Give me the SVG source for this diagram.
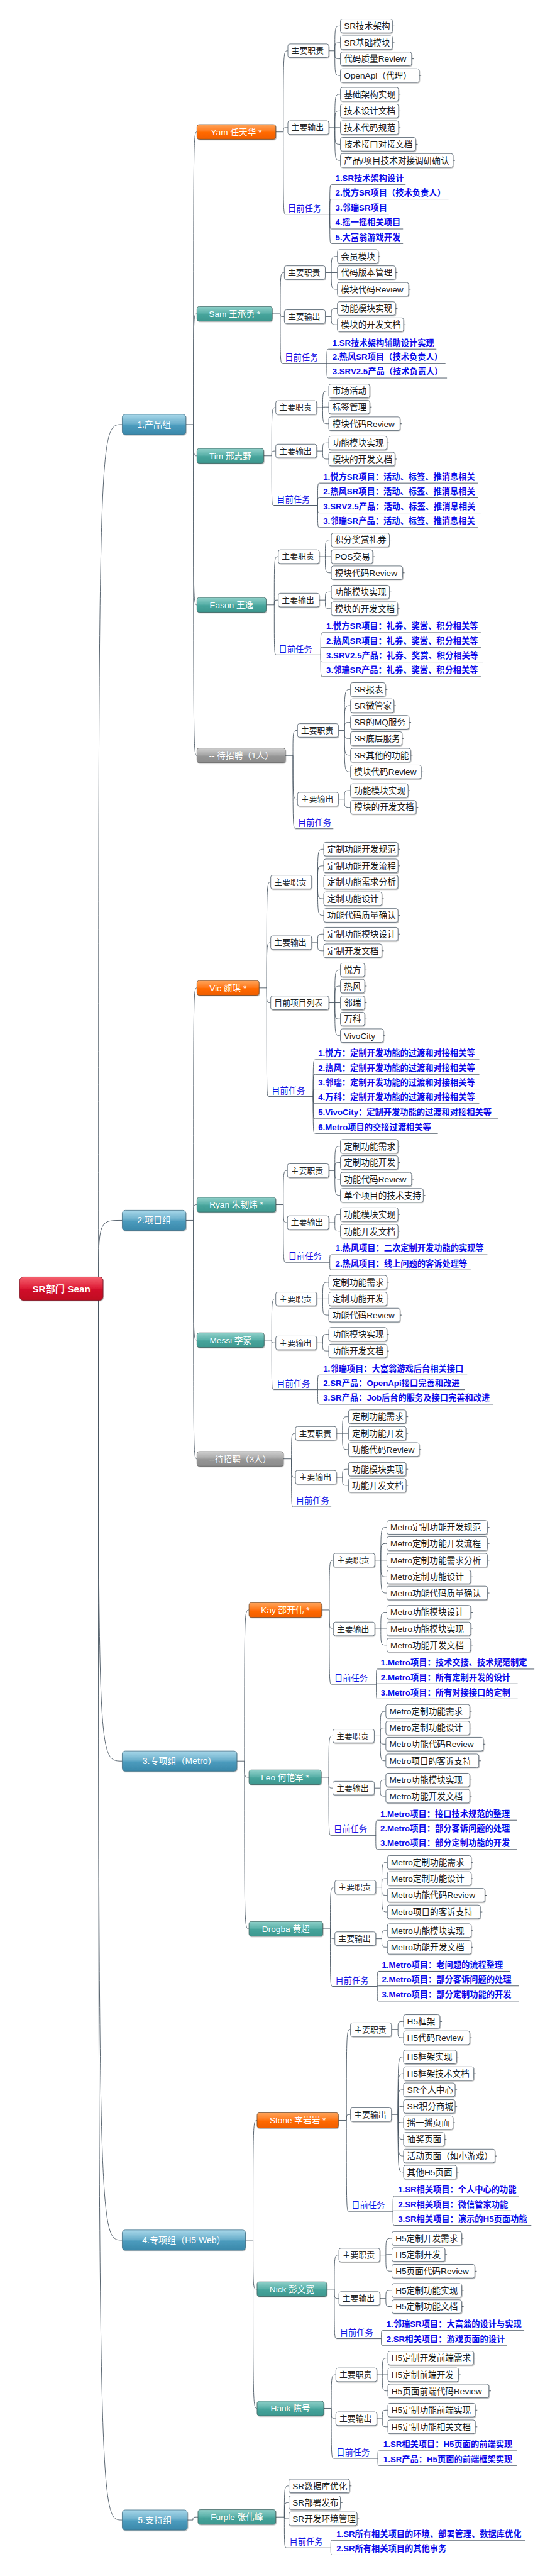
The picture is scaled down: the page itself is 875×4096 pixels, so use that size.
<svg xmlns="http://www.w3.org/2000/svg" width="875" height="4096" viewBox="0 0 875 4096">
<defs>
<linearGradient id="gO" x1="0" y1="0" x2="0" y2="1"><stop offset="0" stop-color="#ffa45a"/><stop offset="0.45" stop-color="#ff7a1c"/><stop offset="0.55" stop-color="#ff6800"/><stop offset="1" stop-color="#f05f00"/></linearGradient>
<linearGradient id="gT" x1="0" y1="0" x2="0" y2="1"><stop offset="0" stop-color="#8fd0c9"/><stop offset="0.45" stop-color="#5cb2aa"/><stop offset="0.55" stop-color="#46a49b"/><stop offset="1" stop-color="#3d988f"/></linearGradient>
<linearGradient id="gG" x1="0" y1="0" x2="0" y2="1"><stop offset="0" stop-color="#cfcfcf"/><stop offset="0.45" stop-color="#a8a8a8"/><stop offset="0.55" stop-color="#959595"/><stop offset="1" stop-color="#8c8c8c"/></linearGradient>
<linearGradient id="gB" x1="0" y1="0" x2="0" y2="1"><stop offset="0" stop-color="#a9d8ea"/><stop offset="0.45" stop-color="#6cb0cc"/><stop offset="0.55" stop-color="#4b9bbd"/><stop offset="1" stop-color="#3a88aa"/></linearGradient>
<linearGradient id="gR" x1="0" y1="0" x2="0" y2="1"><stop offset="0" stop-color="#f4606e"/><stop offset="0.45" stop-color="#e0223a"/><stop offset="0.55" stop-color="#d0102a"/><stop offset="1" stop-color="#c00a22"/></linearGradient>
<filter id="sh" x="-5%" y="-10%" width="115%" height="140%"><feDropShadow dx="1" dy="1.5" stdDeviation="0.8" flood-color="#000" flood-opacity="0.3"/></filter>
</defs>
<style>
.c{fill:none;stroke:#44525e;stroke-width:1.1}
.u{fill:none;stroke:#3c4a58;stroke-width:1.1}
.b{fill:#fff;stroke:#66737e;stroke-width:1.2;filter:url(#sh)}
.nO{fill:url(#gO);stroke:#6a4a30;stroke-width:1;filter:url(#sh)}
.nT{fill:url(#gT);stroke:#3d625f;stroke-width:1;filter:url(#sh)}
.nG{fill:url(#gG);stroke:#5e5e5e;stroke-width:1;filter:url(#sh)}
.nB{fill:url(#gB);stroke:#3f6f86;stroke-width:1;filter:url(#sh)}
.nR{fill:url(#gR);stroke:#7a1020;stroke-width:1;filter:url(#sh)}
text{font-family:"Liberation Sans","Noto Sans CJK SC",sans-serif}
.i{font-size:17px;fill:#1b1b1b}
.h{font-size:16px;fill:#222}
.t{font-size:16.5px;font-weight:bold;fill:#0b0bea}
.m{font-size:16.5px;fill:#1414e6}
.w{font-size:17px;fill:#fff;text-anchor:middle}
.l1{font-size:17.5px;fill:#fff;text-anchor:middle}
.rt{font-size:19px;font-weight:bold;fill:#fff;text-anchor:middle}
</style>
<rect width="875" height="4096" fill="#fff"/>
<g transform="scale(0.8035)">
<g id="connectors">
<path class="c" d="M195 2550C195 840 195 840 242 840M195 2550C195 2415 195 2415 242 2415M195 2550C195 3485 195 3485 242 3485M195 2550C195 4433 195 4433 242 4433M195 2550C195 4987 195 4987 242 4987"/>
<path class="c" d="M368 840H383M383 840C383 261 383 261 390 261M383 840C383 621 383 621 390 621M383 840C383 902 383 902 390 902M383 840C383 1197 383 1197 390 1197M383 840C383 1495 383 1495 390 1495"/>
<path class="c" d="M368 2415H383M383 2415C383 1955 383 1955 390 1955M383 2415C383 2384 383 2384 390 2384M383 2415C383 2652 383 2652 390 2652M383 2415C383 2887 383 2887 390 2887"/>
<path class="c" d="M469 3485H484M484 3485C484 3186 484 3186 493 3186M484 3485C484 3517 484 3517 493 3517M484 3485C484 3817 484 3817 493 3817"/>
<path class="c" d="M486 4433H501M501 4433C501 4196 501 4196 509 4196M501 4433C501 4530 501 4530 509 4530M501 4433C501 4766 501 4766 509 4766"/>
<path class="c" d="M371 4987H382C382 4981 382 4981 392 4981"/>
<path class="c" d="M546 261H561M561 261C561 100.5 561 100.5 570 100.5M561 261C561 252.5 561 252.5 570 252.5M561 261C561 424 561 424 566 424"/>
<path class="c" d="M539 621H555M555 621C555 539.5 555 539.5 563 539.5M555 621C555 626.5 555 626.5 563 626.5M555 621C555 719 555 719 560 719"/>
<path class="c" d="M522 902H538M538 902C538 806.5 538 806.5 546 806.5M538 902C538 892.5 538 892.5 546 892.5M538 902C538 1000 538 1000 542 1000"/>
<path class="c" d="M527 1197H543M543 1197C543 1101.5 543 1101.5 551 1101.5M543 1197C543 1187.5 543 1187.5 551 1187.5M543 1197C543 1296 543 1296 548 1296"/>
<path class="c" d="M565 1495H580M580 1495C580 1445.5 580 1445.5 589 1445.5M580 1495C580 1581.5 580 1581.5 589 1581.5M580 1495C580 1640 580 1640 586 1640"/>
<path class="c" d="M513 1955H528M528 1955C528 1745.5 528 1745.5 536 1745.5M528 1955C528 1865.5 528 1865.5 536 1865.5M528 1955C528 1984.5 528 1984.5 536 1984.5M528 1955C528 2170 528 2170 532 2170"/>
<path class="c" d="M546 2384H561M561 2384C561 2316.5 561 2316.5 569 2316.5M561 2384C561 2419.5 561 2419.5 569 2419.5M561 2384C561 2498 561 2498 566 2498"/>
<path class="c" d="M523 2652H538M538 2652C538 2570.5 538 2570.5 546 2570.5M538 2652C538 2657.5 538 2657.5 546 2657.5M538 2652C538 2750 538 2750 542 2750"/>
<path class="c" d="M561 2887H577M577 2887C577 2836.5 577 2836.5 585 2836.5M577 2887C577 2923.5 577 2923.5 585 2923.5M577 2887C577 2982 577 2982 581 2982"/>
<path class="c" d="M637 3186H652M652 3186C652 3087.5 652 3087.5 660 3087.5M652 3186C652 3223.5 652 3223.5 660 3223.5M652 3186C652 3333 652 3333 657 3333"/>
<path class="c" d="M636 3517H651M651 3517C651 3435.5 651 3435.5 659 3435.5M651 3517C651 3538.5 651 3538.5 659 3538.5M651 3517C651 3632 651 3632 656 3632"/>
<path class="c" d="M639 3817H654M654 3817C654 3734.5 654 3734.5 663 3734.5M654 3817C654 3836.5 654 3836.5 663 3836.5M654 3817C654 3931 654 3931 659 3931"/>
<path class="c" d="M670 4196H686M686 4196C686 4016.5 686 4016.5 694 4016.5M686 4196C686 4184.5 686 4184.5 694 4184.5M686 4196C686 4376 686 4376 691 4376"/>
<path class="c" d="M647 4530H662M662 4530C662 4462.5 662 4462.5 671 4462.5M662 4530C662 4548.5 662 4548.5 671 4548.5M662 4530C662 4628 662 4628 667 4628"/>
<path class="c" d="M641 4766H656M656 4766C656 4699.5 656 4699.5 665 4699.5M656 4766C656 4786.5 656 4786.5 665 4786.5M656 4766C656 4865 656 4865 662 4865"/>
<path class="c" d="M546 4981H563M563 4981C563 4919.5 563 4919.5 572 4919.5M563 4981C563 4952.5 563 4952.5 572 4952.5M563 4981C563 4984.5 563 4984.5 572 4984.5M563 4981C563 5042 563 5042 569 5042"/>
<path class="c" d="M651 100.5H663M663 100.5C663 51.5 663 51.5 674 51.5M663 100.5C663 84.5 663 84.5 674 84.5M663 100.5C663 116.5 663 116.5 674 116.5M663 100.5C663 149.5 663 149.5 674 149.5"/>
<path class="c" d="M651 252.5H663M663 252.5C663 186.5 663 186.5 674 186.5M663 252.5C663 219.5 663 219.5 674 219.5M663 252.5H674M663 252.5C663 285.5 663 285.5 674 285.5M663 252.5C663 317.5 663 317.5 674 317.5"/>
<path class="c" d="M653 424C653 365 653 365 657 365M653 424C653 394 653 394 657 394M653 424H657M653 424C653 453 653 453 657 453M653 424C653 482 653 482 657 482"/>
<path class="c" d="M644 539.5H656M656 539.5C656 507.5 656 507.5 668 507.5M656 539.5H668M656 539.5C656 572.5 656 572.5 668 572.5"/>
<path class="c" d="M644 626.5H656M656 626.5C656 610.5 656 610.5 668 610.5M656 626.5C656 642.5 656 642.5 668 642.5"/>
<path class="c" d="M647 719C647 691 647 691 652 691M647 719H652M647 719C647 748 647 748 652 748"/>
<path class="c" d="M627 806.5H639M639 806.5C639 773.5 639 773.5 651 773.5M639 806.5C639 805.5 639 805.5 651 805.5M639 806.5C639 838.5 639 838.5 651 838.5"/>
<path class="c" d="M627 892.5H639M639 892.5C639 876.5 639 876.5 651 876.5M639 892.5C639 908.5 639 908.5 651 908.5"/>
<path class="c" d="M629 1000C629 956 629 956 633 956M629 1000C629 985 629 985 633 985M629 1000C629 1015 629 1015 633 1015M629 1000C629 1044 629 1044 633 1044"/>
<path class="c" d="M632 1101.5H644M644 1101.5C644 1068.5 644 1068.5 656 1068.5M644 1101.5H656M644 1101.5C644 1133.5 644 1133.5 656 1133.5"/>
<path class="c" d="M632 1187.5H644M644 1187.5C644 1171.5 644 1171.5 656 1171.5M644 1187.5C644 1204.5 644 1204.5 656 1204.5"/>
<path class="c" d="M635 1296C635 1252 635 1252 639 1252M635 1296C635 1281 635 1281 639 1281M635 1296C635 1310 635 1310 639 1310M635 1296C635 1339 635 1339 639 1339"/>
<path class="c" d="M670 1445.5H682M682 1445.5C682 1364.5 682 1364.5 694 1364.5M682 1445.5C682 1396.5 682 1396.5 694 1396.5M682 1445.5C682 1429.5 682 1429.5 694 1429.5M682 1445.5C682 1461.5 682 1461.5 694 1461.5M682 1445.5C682 1494.5 682 1494.5 694 1494.5M682 1445.5C682 1527.5 682 1527.5 694 1527.5"/>
<path class="c" d="M670 1581.5H682M682 1581.5C682 1564.5 682 1564.5 694 1564.5M682 1581.5C682 1597.5 682 1597.5 694 1597.5"/>
<path class="c" d="M617 1745.5H629M629 1745.5C629 1680.5 629 1680.5 641 1680.5M629 1745.5C629 1713.5 629 1713.5 641 1713.5M629 1745.5H641M629 1745.5C629 1778.5 629 1778.5 641 1778.5M629 1745.5C629 1811.5 629 1811.5 641 1811.5"/>
<path class="c" d="M617 1865.5H629M629 1865.5C629 1848.5 629 1848.5 641 1848.5M629 1865.5C629 1881.5 629 1881.5 641 1881.5"/>
<path class="c" d="M651 1984.5H663M663 1984.5C663 1919.5 663 1919.5 674 1919.5M663 1984.5C663 1951.5 663 1951.5 674 1951.5M663 1984.5H674M663 1984.5C663 2016.5 663 2016.5 674 2016.5M663 1984.5C663 2049.5 663 2049.5 674 2049.5"/>
<path class="c" d="M620 2170C620 2097 620 2097 625 2097M620 2170C620 2126 620 2126 625 2126M620 2170C620 2155 620 2155 625 2155M620 2170C620 2184 620 2184 625 2184M620 2170C620 2214 620 2214 625 2214M620 2170C620 2243 620 2243 625 2243"/>
<path class="c" d="M651 2316.5H663M663 2316.5C663 2268.5 663 2268.5 674 2268.5M663 2316.5C663 2300.5 663 2300.5 674 2300.5M663 2316.5C663 2333.5 663 2333.5 674 2333.5M663 2316.5C663 2365.5 663 2365.5 674 2365.5"/>
<path class="c" d="M651 2419.5H663M663 2419.5C663 2403.5 663 2403.5 674 2403.5M663 2419.5C663 2436.5 663 2436.5 674 2436.5"/>
<path class="c" d="M653 2498C653 2483 653 2483 657 2483M653 2498C653 2513 653 2513 657 2513"/>
<path class="c" d="M627 2570.5H639M639 2570.5C639 2537.5 639 2537.5 651 2537.5M639 2570.5H651M639 2570.5C639 2602.5 639 2602.5 651 2602.5"/>
<path class="c" d="M627 2657.5H639M639 2657.5C639 2640.5 639 2640.5 651 2640.5M639 2657.5C639 2673.5 639 2673.5 651 2673.5"/>
<path class="c" d="M629 2750C629 2721 629 2721 633 2721M629 2750H633M629 2750C629 2779 629 2779 633 2779"/>
<path class="c" d="M666 2836.5H678M678 2836.5C678 2803.5 678 2803.5 690 2803.5M678 2836.5H690M678 2836.5C678 2868.5 678 2868.5 690 2868.5"/>
<path class="c" d="M666 2923.5H678M678 2923.5C678 2907.5 678 2907.5 690 2907.5M678 2923.5C678 2939.5 678 2939.5 690 2939.5"/>
<path class="c" d="M742 3087.5H754M754 3087.5C754 3022.5 754 3022.5 766 3022.5M754 3087.5C754 3054.5 754 3054.5 766 3054.5M754 3087.5H766M754 3087.5C754 3120.5 754 3120.5 766 3120.5M754 3087.5C754 3152.5 754 3152.5 766 3152.5"/>
<path class="c" d="M742 3223.5H754M754 3223.5C754 3190.5 754 3190.5 766 3190.5M754 3223.5H766M754 3223.5C754 3255.5 754 3255.5 766 3255.5"/>
<path class="c" d="M745 3333C745 3303 745 3303 748 3303M745 3333C745 3332 745 3332 748 3332M745 3333C745 3362 745 3362 748 3362"/>
<path class="c" d="M741 3435.5H753M753 3435.5C753 3386.5 753 3386.5 764 3386.5M753 3435.5C753 3419.5 753 3419.5 764 3419.5M753 3435.5C753 3451.5 753 3451.5 764 3451.5M753 3435.5C753 3484.5 753 3484.5 764 3484.5"/>
<path class="c" d="M741 3538.5H753M753 3538.5C753 3522.5 753 3522.5 764 3522.5M753 3538.5C753 3554.5 753 3554.5 764 3554.5"/>
<path class="c" d="M744 3632C744 3602 744 3602 748 3602M744 3632C744 3631 744 3631 748 3631M744 3632C744 3660 744 3660 748 3660"/>
<path class="c" d="M744 3734.5H756M756 3734.5C756 3685.5 756 3685.5 767 3685.5M756 3734.5C756 3717.5 756 3717.5 767 3717.5M756 3734.5C756 3750.5 756 3750.5 767 3750.5M756 3734.5C756 3783.5 756 3783.5 767 3783.5"/>
<path class="c" d="M744 3836.5H756M756 3836.5C756 3820.5 756 3820.5 767 3820.5M756 3836.5C756 3853.5 756 3853.5 767 3853.5"/>
<path class="c" d="M747 3931C747 3901 747 3901 750 3901M747 3931C747 3930 747 3930 750 3930M747 3931C747 3960 747 3960 750 3960"/>
<path class="c" d="M775 4016.5H788M788 4016.5C788 4000.5 788 4000.5 799 4000.5M788 4016.5C788 4032.5 788 4032.5 799 4032.5"/>
<path class="c" d="M775 4184.5H788M788 4184.5C788 4070.5 788 4070.5 799 4070.5M788 4184.5C788 4103.5 788 4103.5 799 4103.5M788 4184.5C788 4135.5 788 4135.5 799 4135.5M788 4184.5C788 4168.5 788 4168.5 799 4168.5M788 4184.5C788 4200.5 788 4200.5 799 4200.5M788 4184.5C788 4233.5 788 4233.5 799 4233.5M788 4184.5C788 4266.5 788 4266.5 799 4266.5M788 4184.5C788 4298.5 788 4298.5 799 4298.5"/>
<path class="c" d="M778 4376C778 4346 778 4346 782 4346M778 4376C778 4375 778 4375 782 4375M778 4376C778 4404 778 4404 782 4404"/>
<path class="c" d="M752 4462.5H764M764 4462.5C764 4429.5 764 4429.5 776 4429.5M764 4462.5C764 4461.5 764 4461.5 776 4461.5M764 4462.5C764 4494.5 764 4494.5 776 4494.5"/>
<path class="c" d="M752 4548.5H764M764 4548.5C764 4532.5 764 4532.5 776 4532.5M764 4548.5C764 4564.5 764 4564.5 776 4564.5"/>
<path class="c" d="M755 4628C755 4612 755 4612 759 4612M755 4628C755 4642 755 4642 759 4642"/>
<path class="c" d="M746 4699.5H757M757 4699.5C757 4666.5 757 4666.5 768 4666.5M757 4699.5H768M757 4699.5C757 4731.5 757 4731.5 768 4731.5"/>
<path class="c" d="M746 4786.5H757M757 4786.5C757 4769.5 757 4769.5 768 4769.5M757 4786.5C757 4802.5 757 4802.5 768 4802.5"/>
<path class="c" d="M748 4865C748 4850 748 4850 752 4850M748 4865C748 4879 748 4879 752 4879"/>
<path class="c" d="M655 5042C655 5027 655 5027 659 5027M655 5042C655 5056 655 5056 659 5056"/>
<path class="c" d="M777 51.5h4M777 84.5h4M815 116.5h4M830 149.5h4M789 186.5h4M789 219.5h4M789 252.5h4M823 285.5h4M897 317.5h4M749 507.5h4M783 539.5h4M809 572.5h4M783 610.5h4M799 642.5h4M732 773.5h4M732 805.5h4M792 838.5h4M766 876.5h4M782 908.5h4M771 1068.5h4M738 1101.5h4M797 1133.5h4M771 1171.5h4M787 1204.5h4M763 1364.5h4M780 1396.5h4M810 1429.5h4M796 1461.5h4M813 1494.5h4M834 1527.5h4M808 1564.5h4M824 1597.5h4M788 1680.5h4M788 1713.5h4M788 1745.5h4M756 1778.5h4M788 1811.5h4M788 1848.5h4M756 1881.5h4M722 1919.5h4M722 1951.5h4M722 1984.5h4M722 2016.5h4M759 2049.5h4M788 2268.5h4M788 2300.5h4M815 2333.5h4M838 2365.5h4M788 2403.5h4M788 2436.5h4M766 2537.5h4M766 2570.5h4M792 2602.5h4M766 2640.5h4M766 2673.5h4M804 2803.5h4M804 2836.5h4M830 2868.5h4M804 2907.5h4M804 2939.5h4M965 3022.5h4M965 3054.5h4M965 3087.5h4M932 3120.5h4M965 3152.5h4M932 3190.5h4M932 3223.5h4M932 3255.5h4M930 3386.5h4M930 3419.5h4M957 3451.5h4M948 3484.5h4M930 3522.5h4M930 3554.5h4M933 3685.5h4M933 3717.5h4M960 3750.5h4M951 3783.5h4M933 3820.5h4M933 3853.5h4M871 4000.5h4M930 4032.5h4M904 4070.5h4M938 4103.5h4M901 4135.5h4M901 4168.5h4M897 4200.5h4M880 4233.5h4M980 4266.5h4M904 4298.5h4M914 4429.5h4M881 4461.5h4M940 4494.5h4M914 4532.5h4M914 4564.5h4M938 4666.5h4M908 4699.5h4M968 4731.5h4M941 4769.5h4M941 4802.5h4M692 4919.5h4M674 4952.5h4M707 4984.5h4"/>
</g>

<g id="root"><rect class="nR" x="39" y="2527" width="165" height="46" rx="7"/><text class="rt" x="121.5" y="2557">SR部门 Sean</text></g>
<g id="grp1"><rect class="nB" x="242" y="820" width="126" height="40" rx="6"/><text class="l1" x="305" y="846">1.产品组</text></g>
<g id="grp2"><rect class="nB" x="242" y="2395" width="126" height="40" rx="6"/><text class="l1" x="305" y="2421">2.项目组</text></g>
<g id="grp3"><rect class="nB" x="242" y="3465" width="227" height="40" rx="6"/><text class="l1" x="355.5" y="3491">3.专项组（Metro）</text></g>
<g id="grp4"><rect class="nB" x="242" y="4413" width="244" height="40" rx="6"/><text class="l1" x="364" y="4439">4.专项组（H5 Web）</text></g>
<g id="grp5"><rect class="nB" x="242" y="4967" width="129" height="40" rx="6"/><text class="l1" x="306.5" y="4993">5.支持组</text></g>

<!-- Yam -->
<g id="yam"><rect class="nO" x="390" y="246.5" width="156" height="29" rx="5"/><text class="w" x="468" y="267">Yam 任天华 *</text></g>
<g id="yam-zz"><rect class="b" x="570" y="87" width="81" height="27" rx="4"/><text class="h" x="577" y="106">主要职责</text></g>
<g id="yam-zz1"><rect class="b" x="674" y="38" width="103" height="27" rx="4"/><text class="i" x="681" y="57.5">SR技术架构</text></g>
<g id="yam-zz2"><rect class="b" x="674" y="71" width="103" height="27" rx="4"/><text class="i" x="681" y="90.5">SR基础模块</text></g>
<g id="yam-zz3"><rect class="b" x="674" y="103" width="141" height="27" rx="4"/><text class="i" x="681" y="122.5">代码质量Review</text></g>
<g id="yam-zz4"><rect class="b" x="674" y="136" width="156" height="27" rx="4"/><text class="i" x="681" y="155.5">OpenApi（代理）</text></g>
<g id="yam-sc"><rect class="b" x="570" y="239" width="81" height="27" rx="4"/><text class="h" x="577" y="258">主要输出</text></g>
<g id="yam-sc1"><rect class="b" x="674" y="173" width="115" height="27" rx="4"/><text class="i" x="681" y="192.5">基础架构实现</text></g>
<g id="yam-sc2"><rect class="b" x="674" y="206" width="115" height="27" rx="4"/><text class="i" x="681" y="225.5">技术设计文档</text></g>
<g id="yam-sc3"><rect class="b" x="674" y="239" width="115" height="27" rx="4"/><text class="i" x="681" y="258.5">技术代码规范</text></g>
<g id="yam-sc4"><rect class="b" x="674" y="272" width="149" height="27" rx="4"/><text class="i" x="681" y="291.5">技术接口对接文档</text></g>
<g id="yam-sc5"><rect class="b" x="674" y="304" width="223" height="27" rx="4"/><text class="i" x="681" y="323.5">产品/项目技术对接调研确认</text></g>
<g id="yam-mq"><text class="m" x="570" y="418">目前任务</text><path class="u" d="M566 424H653"/></g>
<g id="yam-t1"><text class="t" x="664" y="358">1.SR技术架构设计</text><path class="u" d="M657 365H803"/></g>
<g id="yam-t2"><text class="t" x="664" y="387">2.悦方SR项目（技术负责人）</text><path class="u" d="M657 394H888"/></g>
<g id="yam-t3"><text class="t" x="664" y="417">3.邻瑞SR项目</text><path class="u" d="M657 424H770"/></g>
<g id="yam-t4"><text class="t" x="664" y="446">4.摇一摇相关项目</text><path class="u" d="M657 453H798"/></g>
<g id="yam-t5"><text class="t" x="664" y="475">5.大富翁游戏开发</text><path class="u" d="M657 482H798"/></g>

<!-- Sam -->
<g id="sam"><rect class="nT" x="390" y="606.5" width="149" height="29" rx="5"/><text class="w" x="464.5" y="627">Sam 王承勇 *</text></g>
<g id="sam-zz"><rect class="b" x="563" y="526" width="81" height="27" rx="4"/><text class="h" x="570" y="545">主要职责</text></g>
<g id="sam-zz1"><rect class="b" x="668" y="494" width="81" height="27" rx="4"/><text class="i" x="675" y="513.5">会员模块</text></g>
<g id="sam-zz2"><rect class="b" x="668" y="526" width="115" height="27" rx="4"/><text class="i" x="675" y="545.5">代码版本管理</text></g>
<g id="sam-zz3"><rect class="b" x="668" y="559" width="141" height="27" rx="4"/><text class="i" x="675" y="578.5">模块代码Review</text></g>
<g id="sam-sc"><rect class="b" x="563" y="613" width="81" height="27" rx="4"/><text class="h" x="570" y="632">主要输出</text></g>
<g id="sam-sc1"><rect class="b" x="668" y="597" width="115" height="27" rx="4"/><text class="i" x="675" y="616.5">功能模块实现</text></g>
<g id="sam-sc2"><rect class="b" x="668" y="629" width="131" height="27" rx="4"/><text class="i" x="675" y="648.5">模块的开发文档</text></g>
<g id="sam-mq"><text class="m" x="564" y="713">目前任务</text><path class="u" d="M560 719H647"/></g>
<g id="sam-t1"><text class="t" x="658" y="684">1.SR技术架构辅助设计实现</text><path class="u" d="M652 691H864"/></g>
<g id="sam-t2"><text class="t" x="658" y="712">2.热风SR项目（技术负责人）</text><path class="u" d="M652 719H882"/></g>
<g id="sam-t3"><text class="t" x="658" y="741">3.SRV2.5产品（技术负责人）</text><path class="u" d="M652 748H885"/></g>

<!-- Tim -->
<g id="tim"><rect class="nT" x="390" y="887.5" width="132" height="29" rx="5"/><text class="w" x="456" y="908">Tim 邢志野</text></g>
<g id="tim-zz"><rect class="b" x="546" y="793" width="81" height="27" rx="4"/><text class="h" x="553" y="812">主要职责</text></g>
<g id="tim-zz1"><rect class="b" x="651" y="760" width="81" height="27" rx="4"/><text class="i" x="658" y="779.5">市场活动</text></g>
<g id="tim-zz2"><rect class="b" x="651" y="792" width="81" height="27" rx="4"/><text class="i" x="658" y="811.5">标签管理</text></g>
<g id="tim-zz3"><rect class="b" x="651" y="825" width="141" height="27" rx="4"/><text class="i" x="658" y="844.5">模块代码Review</text></g>
<g id="tim-sc"><rect class="b" x="546" y="879" width="81" height="27" rx="4"/><text class="h" x="553" y="898">主要输出</text></g>
<g id="tim-sc1"><rect class="b" x="651" y="863" width="115" height="27" rx="4"/><text class="i" x="658" y="882.5">功能模块实现</text></g>
<g id="tim-sc2"><rect class="b" x="651" y="895" width="131" height="27" rx="4"/><text class="i" x="658" y="914.5">模块的开发文档</text></g>
<g id="tim-mq"><text class="m" x="548" y="994">目前任务</text><path class="u" d="M542 1000H629"/></g>
<g id="tim-t1"><text class="t" x="640" y="949">1.悦方SR项目：活动、标签、推消息相关</text><path class="u" d="M633 956H947"/></g>
<g id="tim-t2"><text class="t" x="640" y="978">2.热风SR项目：活动、标签、推消息相关</text><path class="u" d="M633 985H947"/></g>
<g id="tim-t3"><text class="t" x="640" y="1008">3.SRV2.5产品：活动、标签、推消息相关</text><path class="u" d="M633 1015H952"/></g>
<g id="tim-t4"><text class="t" x="640" y="1037">3.邻瑞SR产品：活动、标签、推消息相关</text><path class="u" d="M633 1044H947"/></g>

<!-- Eason -->
<g id="eason"><rect class="nT" x="390" y="1182.5" width="137" height="29" rx="5"/><text class="w" x="458.5" y="1203">Eason  王逸</text></g>
<g id="eason-zz"><rect class="b" x="551" y="1088" width="81" height="27" rx="4"/><text class="h" x="558" y="1107">主要职责</text></g>
<g id="eason-zz1"><rect class="b" x="656" y="1055" width="115" height="27" rx="4"/><text class="i" x="663" y="1074.5">积分奖赏礼券</text></g>
<g id="eason-zz2"><rect class="b" x="656" y="1088" width="82" height="27" rx="4"/><text class="i" x="663" y="1107.5">POS交易</text></g>
<g id="eason-zz3"><rect class="b" x="656" y="1120" width="141" height="27" rx="4"/><text class="i" x="663" y="1139.5">模块代码Review</text></g>
<g id="eason-sc"><rect class="b" x="551" y="1174" width="81" height="27" rx="4"/><text class="h" x="558" y="1193">主要输出</text></g>
<g id="eason-sc1"><rect class="b" x="656" y="1158" width="115" height="27" rx="4"/><text class="i" x="663" y="1177.5">功能模块实现</text></g>
<g id="eason-sc2"><rect class="b" x="656" y="1191" width="131" height="27" rx="4"/><text class="i" x="663" y="1210.5">模块的开发文档</text></g>
<g id="eason-mq"><text class="m" x="552" y="1290">目前任务</text><path class="u" d="M548 1296H635"/></g>
<g id="eason-t1"><text class="t" x="646" y="1245">1.悦方SR项目：礼券、奖赏、积分相关等</text><path class="u" d="M639 1252H952"/></g>
<g id="eason-t2"><text class="t" x="646" y="1274">2.热风SR项目：礼券、奖赏、积分相关等</text><path class="u" d="M639 1281H952"/></g>
<g id="eason-t3"><text class="t" x="646" y="1303">3.SRV2.5产品：礼券、奖赏、积分相关等</text><path class="u" d="M639 1310H956"/></g>
<g id="eason-t4"><text class="t" x="646" y="1332">3.邻瑞SR产品：礼券、奖赏、积分相关等</text><path class="u" d="M639 1339H952"/></g>

<!-- 待招聘 1 -->
<g id="hire1"><rect class="nG" x="390" y="1480.5" width="175" height="29" rx="5"/><text class="w" x="477.5" y="1501">-- 待招聘（1人）</text></g>
<g id="hire1-zz"><rect class="b" x="589" y="1432" width="81" height="27" rx="4"/><text class="h" x="596" y="1451">主要职责</text></g>
<g id="hire1-zz1"><rect class="b" x="694" y="1351" width="69" height="27" rx="4"/><text class="i" x="701" y="1370.5">SR报表</text></g>
<g id="hire1-zz2"><rect class="b" x="694" y="1383" width="86" height="27" rx="4"/><text class="i" x="701" y="1402.5">SR微管家</text></g>
<g id="hire1-zz3"><rect class="b" x="694" y="1416" width="116" height="27" rx="4"/><text class="i" x="701" y="1435.5">SR的MQ服务</text></g>
<g id="hire1-zz4"><rect class="b" x="694" y="1448" width="102" height="27" rx="4"/><text class="i" x="701" y="1467.5">SR底层服务</text></g>
<g id="hire1-zz5"><rect class="b" x="694" y="1481" width="119" height="27" rx="4"/><text class="i" x="701" y="1500.5">SR其他的功能</text></g>
<g id="hire1-zz6"><rect class="b" x="694" y="1514" width="140" height="27" rx="4"/><text class="i" x="701" y="1533.5">模块代码Review</text></g>
<g id="hire1-sc"><rect class="b" x="589" y="1568" width="81" height="27" rx="4"/><text class="h" x="596" y="1587">主要输出</text></g>
<g id="hire1-sc1"><rect class="b" x="694" y="1551" width="114" height="27" rx="4"/><text class="i" x="701" y="1570.5">功能模块实现</text></g>
<g id="hire1-sc2"><rect class="b" x="694" y="1584" width="130" height="27" rx="4"/><text class="i" x="701" y="1603.5">模块的开发文档</text></g>
<g id="hire1-mq"><text class="m" x="590" y="1634">目前任务</text><path class="u" d="M586 1640H660"/></g>

<!-- Vic -->
<g id="vic"><rect class="nO" x="390" y="1940.5" width="123" height="29" rx="5"/><text class="w" x="451.5" y="1961">Vic 颜琪 *</text></g>
<g id="vic-zz"><rect class="b" x="536" y="1732" width="81" height="27" rx="4"/><text class="h" x="543" y="1751">主要职责</text></g>
<g id="vic-zz1"><rect class="b" x="641" y="1667" width="147" height="27" rx="4"/><text class="i" x="648" y="1686.5">定制功能开发规范</text></g>
<g id="vic-zz2"><rect class="b" x="641" y="1700" width="147" height="27" rx="4"/><text class="i" x="648" y="1719.5">定制功能开发流程</text></g>
<g id="vic-zz3"><rect class="b" x="641" y="1732" width="147" height="27" rx="4"/><text class="i" x="648" y="1751.5">定制功能需求分析</text></g>
<g id="vic-zz4"><rect class="b" x="641" y="1765" width="115" height="27" rx="4"/><text class="i" x="648" y="1784.5">定制功能设计</text></g>
<g id="vic-zz5"><rect class="b" x="641" y="1798" width="147" height="27" rx="4"/><text class="i" x="648" y="1817.5">功能代码质量确认</text></g>
<g id="vic-sc"><rect class="b" x="536" y="1852" width="81" height="27" rx="4"/><text class="h" x="543" y="1871">主要输出</text></g>
<g id="vic-sc1"><rect class="b" x="641" y="1835" width="147" height="27" rx="4"/><text class="i" x="648" y="1854.5">定制功能模块设计</text></g>
<g id="vic-sc2"><rect class="b" x="641" y="1868" width="115" height="27" rx="4"/><text class="i" x="648" y="1887.5">定制开发文档</text></g>
<g id="vic-lb"><rect class="b" x="536" y="1971" width="115" height="27" rx="4"/><text class="h" x="543" y="1990">目前项目列表</text></g>
<g id="vic-lb1"><rect class="b" x="674" y="1906" width="48" height="27" rx="4"/><text class="i" x="681" y="1925.5">悦方</text></g>
<g id="vic-lb2"><rect class="b" x="674" y="1938" width="48" height="27" rx="4"/><text class="i" x="681" y="1957.5">热风</text></g>
<g id="vic-lb3"><rect class="b" x="674" y="1971" width="48" height="27" rx="4"/><text class="i" x="681" y="1990.5">邻瑞</text></g>
<g id="vic-lb4"><rect class="b" x="674" y="2003" width="48" height="27" rx="4"/><text class="i" x="681" y="2022.5">万科</text></g>
<g id="vic-lb5"><rect class="b" x="674" y="2036" width="85" height="27" rx="4"/><text class="i" x="681" y="2055.5">VivoCity</text></g>
<g id="vic-mq"><text class="m" x="538" y="2164">目前任务</text><path class="u" d="M532 2170H620"/></g>
<g id="vic-t1"><text class="t" x="630" y="2090">1.悦方：定制开发功能的过渡和对接相关等</text><path class="u" d="M625 2097H949"/></g>
<g id="vic-t2"><text class="t" x="630" y="2119">2.热风：定制开发功能的过渡和对接相关等</text><path class="u" d="M625 2126H949"/></g>
<g id="vic-t3"><text class="t" x="630" y="2148">3.邻瑞：定制开发功能的过渡和对接相关等</text><path class="u" d="M625 2155H949"/></g>
<g id="vic-t4"><text class="t" x="630" y="2177">4.万科：定制开发功能的过渡和对接相关等</text><path class="u" d="M625 2184H949"/></g>
<g id="vic-t5"><text class="t" x="630" y="2207">5.VivoCity：定制开发功能的过渡和对接相关等</text><path class="u" d="M625 2214H986"/></g>
<g id="vic-t6"><text class="t" x="630" y="2236">6.Metro项目的交接过渡相关等</text><path class="u" d="M625 2243H867"/></g>

<!-- Ryan -->
<g id="ryan"><rect class="nT" x="390" y="2369.5" width="156" height="29" rx="5"/><text class="w" x="468" y="2390">Ryan 朱韧炜 *</text></g>
<g id="ryan-zz"><rect class="b" x="569" y="2303" width="82" height="27" rx="4"/><text class="h" x="576" y="2322">主要职责</text></g>
<g id="ryan-zz1"><rect class="b" x="674" y="2255" width="114" height="27" rx="4"/><text class="i" x="681" y="2274.5">定制功能需求</text></g>
<g id="ryan-zz2"><rect class="b" x="674" y="2287" width="114" height="27" rx="4"/><text class="i" x="681" y="2306.5">定制功能开发</text></g>
<g id="ryan-zz3"><rect class="b" x="674" y="2320" width="141" height="27" rx="4"/><text class="i" x="681" y="2339.5">功能代码Review</text></g>
<g id="ryan-zz4"><rect class="b" x="674" y="2352" width="164" height="27" rx="4"/><text class="i" x="681" y="2371.5">单个项目的技术支持</text></g>
<g id="ryan-sc"><rect class="b" x="569" y="2406" width="82" height="27" rx="4"/><text class="h" x="576" y="2425">主要输出</text></g>
<g id="ryan-sc1"><rect class="b" x="674" y="2390" width="114" height="27" rx="4"/><text class="i" x="681" y="2409.5">功能模块实现</text></g>
<g id="ryan-sc2"><rect class="b" x="674" y="2423" width="114" height="27" rx="4"/><text class="i" x="681" y="2442.5">功能开发文档</text></g>
<g id="ryan-mq"><text class="m" x="571" y="2492">目前任务</text><path class="u" d="M566 2498H653"/></g>
<g id="ryan-t1"><text class="t" x="664" y="2476">1.热风项目：二次定制开发功能的实现等</text><path class="u" d="M657 2483H965"/></g>
<g id="ryan-t2"><text class="t" x="664" y="2506">2.热风项目：线上问题的客诉处理等</text><path class="u" d="M657 2513H932"/></g>

<!-- Messi -->
<g id="messi"><rect class="nT" x="390" y="2637.5" width="133" height="29" rx="5"/><text class="w" x="456.5" y="2658">Messi 李蒙</text></g>
<g id="messi-zz"><rect class="b" x="546" y="2557" width="81" height="27" rx="4"/><text class="h" x="553" y="2576">主要职责</text></g>
<g id="messi-zz1"><rect class="b" x="651" y="2524" width="115" height="27" rx="4"/><text class="i" x="658" y="2543.5">定制功能需求</text></g>
<g id="messi-zz2"><rect class="b" x="651" y="2557" width="115" height="27" rx="4"/><text class="i" x="658" y="2576.5">定制功能开发</text></g>
<g id="messi-zz3"><rect class="b" x="651" y="2589" width="141" height="27" rx="4"/><text class="i" x="658" y="2608.5">功能代码Review</text></g>
<g id="messi-sc"><rect class="b" x="546" y="2644" width="81" height="27" rx="4"/><text class="h" x="553" y="2663">主要输出</text></g>
<g id="messi-sc1"><rect class="b" x="651" y="2627" width="115" height="27" rx="4"/><text class="i" x="658" y="2646.5">功能模块实现</text></g>
<g id="messi-sc2"><rect class="b" x="651" y="2660" width="115" height="27" rx="4"/><text class="i" x="658" y="2679.5">功能开发文档</text></g>
<g id="messi-mq"><text class="m" x="548" y="2744">目前任务</text><path class="u" d="M542 2750H629"/></g>
<g id="messi-t1"><text class="t" x="640" y="2714">1.邻瑞项目：大富翁游戏后台相关接口</text><path class="u" d="M633 2721H925"/></g>
<g id="messi-t2"><text class="t" x="640" y="2743">2.SR产品：OpenApi接口完善和改进</text><path class="u" d="M633 2750H921"/></g>
<g id="messi-t3"><text class="t" x="640" y="2772">3.SR产品：Job后台的服务及接口完善和改进</text><path class="u" d="M633 2779H977"/></g>

<!-- 待招聘 3 -->
<g id="hire3"><rect class="nG" x="390" y="2872.5" width="171" height="29" rx="5"/><text class="w" x="475.5" y="2893">--待招聘（3人）</text></g>
<g id="hire3-zz"><rect class="b" x="585" y="2823" width="81" height="27" rx="4"/><text class="h" x="592" y="2842">主要职责</text></g>
<g id="hire3-zz1"><rect class="b" x="690" y="2790" width="114" height="27" rx="4"/><text class="i" x="697" y="2809.5">定制功能需求</text></g>
<g id="hire3-zz2"><rect class="b" x="690" y="2823" width="114" height="27" rx="4"/><text class="i" x="697" y="2842.5">定制功能开发</text></g>
<g id="hire3-zz3"><rect class="b" x="690" y="2855" width="140" height="27" rx="4"/><text class="i" x="697" y="2874.5">功能代码Review</text></g>
<g id="hire3-sc"><rect class="b" x="585" y="2910" width="81" height="27" rx="4"/><text class="h" x="592" y="2929">主要输出</text></g>
<g id="hire3-sc1"><rect class="b" x="690" y="2894" width="114" height="27" rx="4"/><text class="i" x="697" y="2913.5">功能模块实现</text></g>
<g id="hire3-sc2"><rect class="b" x="690" y="2926" width="114" height="27" rx="4"/><text class="i" x="697" y="2945.5">功能开发文档</text></g>
<g id="hire3-mq"><text class="m" x="586" y="2976">目前任务</text><path class="u" d="M581 2982H656"/></g>

<!-- Kay -->
<g id="kay"><rect class="nO" x="493" y="3171.5" width="144" height="29" rx="5"/><text class="w" x="565" y="3192">Kay 邵开伟 *</text></g>
<g id="kay-zz"><rect class="b" x="660" y="3074" width="82" height="27" rx="4"/><text class="h" x="667" y="3093">主要职责</text></g>
<g id="kay-zz1"><rect class="b" x="766" y="3009" width="199" height="27" rx="4"/><text class="i" x="773" y="3028.5">Metro定制功能开发规范</text></g>
<g id="kay-zz2"><rect class="b" x="766" y="3041" width="199" height="27" rx="4"/><text class="i" x="773" y="3060.5">Metro定制功能开发流程</text></g>
<g id="kay-zz3"><rect class="b" x="766" y="3074" width="199" height="27" rx="4"/><text class="i" x="773" y="3093.5">Metro定制功能需求分析</text></g>
<g id="kay-zz4"><rect class="b" x="766" y="3107" width="166" height="27" rx="4"/><text class="i" x="773" y="3126.5">Metro定制功能设计</text></g>
<g id="kay-zz5"><rect class="b" x="766" y="3139" width="199" height="27" rx="4"/><text class="i" x="773" y="3158.5">Metro功能代码质量确认</text></g>
<g id="kay-sc"><rect class="b" x="660" y="3210" width="82" height="27" rx="4"/><text class="h" x="667" y="3229">主要输出</text></g>
<g id="kay-sc1"><rect class="b" x="766" y="3177" width="166" height="27" rx="4"/><text class="i" x="773" y="3196.5">Metro功能模块设计</text></g>
<g id="kay-sc2"><rect class="b" x="766" y="3210" width="166" height="27" rx="4"/><text class="i" x="773" y="3229.5">Metro功能模块实现</text></g>
<g id="kay-sc3"><rect class="b" x="766" y="3242" width="166" height="27" rx="4"/><text class="i" x="773" y="3261.5">Metro功能开发文档</text></g>
<g id="kay-mq"><text class="m" x="662" y="3327">目前任务</text><path class="u" d="M657 3333H745"/></g>
<g id="kay-t1"><text class="t" x="754" y="3296">1.Metro项目：技术交接、技术规范制定</text><path class="u" d="M748 3303H1058"/></g>
<g id="kay-t2"><text class="t" x="754" y="3325">2.Metro项目：所有定制开发的设计</text><path class="u" d="M748 3332H1025"/></g>
<g id="kay-t3"><text class="t" x="754" y="3355">3.Metro项目：所有对接接口的定制</text><path class="u" d="M748 3362H1025"/></g>

<!-- Leo -->
<g id="leo"><rect class="nT" x="493" y="3502.5" width="143" height="29" rx="5"/><text class="w" x="564.5" y="3523">Leo 何艳军 *</text></g>
<g id="leo-zz"><rect class="b" x="659" y="3422" width="82" height="27" rx="4"/><text class="h" x="666" y="3441">主要职责</text></g>
<g id="leo-zz1"><rect class="b" x="764" y="3373" width="166" height="27" rx="4"/><text class="i" x="771" y="3392.5">Metro定制功能需求</text></g>
<g id="leo-zz2"><rect class="b" x="764" y="3406" width="166" height="27" rx="4"/><text class="i" x="771" y="3425.5">Metro定制功能设计</text></g>
<g id="leo-zz3"><rect class="b" x="764" y="3438" width="193" height="27" rx="4"/><text class="i" x="771" y="3457.5">Metro功能代码Review</text></g>
<g id="leo-zz4"><rect class="b" x="764" y="3471" width="184" height="27" rx="4"/><text class="i" x="771" y="3490.5">Metro项目的客诉支持</text></g>
<g id="leo-sc"><rect class="b" x="659" y="3525" width="82" height="27" rx="4"/><text class="h" x="666" y="3544">主要输出</text></g>
<g id="leo-sc1"><rect class="b" x="764" y="3509" width="166" height="27" rx="4"/><text class="i" x="771" y="3528.5">Metro功能模块实现</text></g>
<g id="leo-sc2"><rect class="b" x="764" y="3541" width="166" height="27" rx="4"/><text class="i" x="771" y="3560.5">Metro功能开发文档</text></g>
<g id="leo-mq"><text class="m" x="661" y="3626">目前任务</text><path class="u" d="M656 3632H744"/></g>
<g id="leo-t1"><text class="t" x="753" y="3595">1.Metro项目：接口技术规范的整理</text><path class="u" d="M748 3602H1024"/></g>
<g id="leo-t2"><text class="t" x="753" y="3624">2.Metro项目：部分客诉问题的处理</text><path class="u" d="M748 3631H1024"/></g>
<g id="leo-t3"><text class="t" x="753" y="3653">3.Metro项目：部分定制功能的开发</text><path class="u" d="M748 3660H1024"/></g>

<!-- Drogba -->
<g id="drogba"><rect class="nT" x="493" y="3802.5" width="146" height="29" rx="5"/><text class="w" x="566" y="3823">Drogba 黄超</text></g>
<g id="drogba-zz"><rect class="b" x="663" y="3721" width="81" height="27" rx="4"/><text class="h" x="670" y="3740">主要职责</text></g>
<g id="drogba-zz1"><rect class="b" x="767" y="3672" width="166" height="27" rx="4"/><text class="i" x="774" y="3691.5">Metro定制功能需求</text></g>
<g id="drogba-zz2"><rect class="b" x="767" y="3704" width="166" height="27" rx="4"/><text class="i" x="774" y="3723.5">Metro定制功能设计</text></g>
<g id="drogba-zz3"><rect class="b" x="767" y="3737" width="193" height="27" rx="4"/><text class="i" x="774" y="3756.5">Metro功能代码Review</text></g>
<g id="drogba-zz4"><rect class="b" x="767" y="3770" width="184" height="27" rx="4"/><text class="i" x="774" y="3789.5">Metro项目的客诉支持</text></g>
<g id="drogba-sc"><rect class="b" x="663" y="3823" width="81" height="27" rx="4"/><text class="h" x="670" y="3842">主要输出</text></g>
<g id="drogba-sc1"><rect class="b" x="767" y="3807" width="166" height="27" rx="4"/><text class="i" x="774" y="3826.5">Metro功能模块实现</text></g>
<g id="drogba-sc2"><rect class="b" x="767" y="3840" width="166" height="27" rx="4"/><text class="i" x="774" y="3859.5">Metro功能开发文档</text></g>
<g id="drogba-mq"><text class="m" x="664" y="3925">目前任务</text><path class="u" d="M659 3931H747"/></g>
<g id="drogba-t1"><text class="t" x="756" y="3894">1.Metro项目：老问题的流程整理</text><path class="u" d="M750 3901H1010"/></g>
<g id="drogba-t2"><text class="t" x="756" y="3923">2.Metro项目：部分客诉问题的处理</text><path class="u" d="M750 3930H1027"/></g>
<g id="drogba-t3"><text class="t" x="756" y="3953">3.Metro项目：部分定制功能的开发</text><path class="u" d="M750 3960H1027"/></g>

<!-- Stone -->
<g id="stone"><rect class="nO" x="509" y="4181" width="161" height="30" rx="5"/><text class="w" x="589.5" y="4202">Stone 李岩岩 *</text></g>
<g id="stone-zz"><rect class="b" x="694" y="4003" width="81" height="27" rx="4"/><text class="h" x="701" y="4022">主要职责</text></g>
<g id="stone-zz1"><rect class="b" x="799" y="3987" width="72" height="27" rx="4"/><text class="i" x="806" y="4006.5">H5框架</text></g>
<g id="stone-zz2"><rect class="b" x="799" y="4019" width="131" height="27" rx="4"/><text class="i" x="806" y="4038.5">H5代码Review</text></g>
<g id="stone-sc"><rect class="b" x="694" y="4171" width="81" height="27" rx="4"/><text class="h" x="701" y="4190">主要输出</text></g>
<g id="stone-sc1"><rect class="b" x="799" y="4057" width="105" height="27" rx="4"/><text class="i" x="806" y="4076.5">H5框架实现</text></g>
<g id="stone-sc2"><rect class="b" x="799" y="4090" width="139" height="27" rx="4"/><text class="i" x="806" y="4109.5">H5框架技术文档</text></g>
<g id="stone-sc3"><rect class="b" x="799" y="4122" width="102" height="27" rx="4"/><text class="i" x="806" y="4141.5">SR个人中心</text></g>
<g id="stone-sc4"><rect class="b" x="799" y="4155" width="102" height="27" rx="4"/><text class="i" x="806" y="4174.5">SR积分商城</text></g>
<g id="stone-sc5"><rect class="b" x="799" y="4187" width="98" height="27" rx="4"/><text class="i" x="806" y="4206.5">摇一摇页面</text></g>
<g id="stone-sc6"><rect class="b" x="799" y="4220" width="81" height="27" rx="4"/><text class="i" x="806" y="4239.5">抽奖页面</text></g>
<g id="stone-sc7"><rect class="b" x="799" y="4253" width="181" height="27" rx="4"/><text class="i" x="806" y="4272.5">活动页面（如小游戏）</text></g>
<g id="stone-sc8"><rect class="b" x="799" y="4285" width="105" height="27" rx="4"/><text class="i" x="806" y="4304.5">其他H5页面</text></g>
<g id="stone-mq"><text class="m" x="696" y="4370">目前任务</text><path class="u" d="M691 4376H778"/></g>
<g id="stone-t1"><text class="t" x="788" y="4339">1.SR相关项目：个人中心的功能</text><path class="u" d="M782 4346H1028"/></g>
<g id="stone-t2"><text class="t" x="788" y="4368">2.SR相关项目：微信管家功能</text><path class="u" d="M782 4375H1012"/></g>
<g id="stone-t3"><text class="t" x="788" y="4397">3.SR相关项目：演示的H5页面功能</text><path class="u" d="M782 4404H1052"/></g>

<!-- Nick -->
<g id="nick"><rect class="nT" x="509" y="4515.5" width="138" height="29" rx="5"/><text class="w" x="578" y="4536">Nick 彭文宽</text></g>
<g id="nick-zz"><rect class="b" x="671" y="4449" width="81" height="27" rx="4"/><text class="h" x="678" y="4468">主要职责</text></g>
<g id="nick-zz1"><rect class="b" x="776" y="4416" width="138" height="27" rx="4"/><text class="i" x="783" y="4435.5">H5定制开发需求</text></g>
<g id="nick-zz2"><rect class="b" x="776" y="4448" width="105" height="27" rx="4"/><text class="i" x="783" y="4467.5">H5定制开发</text></g>
<g id="nick-zz3"><rect class="b" x="776" y="4481" width="164" height="27" rx="4"/><text class="i" x="783" y="4500.5">H5页面代码Review</text></g>
<g id="nick-sc"><rect class="b" x="671" y="4535" width="81" height="27" rx="4"/><text class="h" x="678" y="4554">主要输出</text></g>
<g id="nick-sc1"><rect class="b" x="776" y="4519" width="138" height="27" rx="4"/><text class="i" x="783" y="4538.5">H5定制功能实现</text></g>
<g id="nick-sc2"><rect class="b" x="776" y="4551" width="138" height="27" rx="4"/><text class="i" x="783" y="4570.5">H5定制功能文档</text></g>
<g id="nick-mq"><text class="m" x="673" y="4622">目前任务</text><path class="u" d="M667 4628H755"/></g>
<g id="nick-t1"><text class="t" x="765" y="4605">1.邻瑞SR项目：大富翁的设计与实现</text><path class="u" d="M759 4612H1038"/></g>
<g id="nick-t2"><text class="t" x="765" y="4635">2.SR相关项目：游戏页面的设计</text><path class="u" d="M759 4642H1004"/></g>

<!-- Hank -->
<g id="hank"><rect class="nT" x="509" y="4751.5" width="132" height="29" rx="5"/><text class="w" x="575" y="4772">Hank 陈号</text></g>
<g id="hank-zz"><rect class="b" x="665" y="4686" width="81" height="27" rx="4"/><text class="h" x="672" y="4705">主要职责</text></g>
<g id="hank-zz1"><rect class="b" x="768" y="4653" width="170" height="27" rx="4"/><text class="i" x="775" y="4672.5">H5定制开发前端需求</text></g>
<g id="hank-zz2"><rect class="b" x="768" y="4686" width="140" height="27" rx="4"/><text class="i" x="775" y="4705.5">H5定制前端开发</text></g>
<g id="hank-zz3"><rect class="b" x="768" y="4718" width="200" height="27" rx="4"/><text class="i" x="775" y="4737.5">H5页面前端代码Review</text></g>
<g id="hank-sc"><rect class="b" x="665" y="4773" width="81" height="27" rx="4"/><text class="h" x="672" y="4792">主要输出</text></g>
<g id="hank-sc1"><rect class="b" x="768" y="4756" width="173" height="27" rx="4"/><text class="i" x="775" y="4775.5">H5定制功能前端实现</text></g>
<g id="hank-sc2"><rect class="b" x="768" y="4789" width="173" height="27" rx="4"/><text class="i" x="775" y="4808.5">H5定制功能相关文档</text></g>
<g id="hank-mq"><text class="m" x="666" y="4859">目前任务</text><path class="u" d="M662 4865H748"/></g>
<g id="hank-t1"><text class="t" x="759" y="4843">1.SR相关项目：H5页面的前端实现</text><path class="u" d="M752 4850H1023"/></g>
<g id="hank-t2"><text class="t" x="759" y="4872">1.SR产品：H5页面的前端框架实现</text><path class="u" d="M752 4879H1023"/></g>

<!-- Furple -->
<g id="furple"><rect class="nT" x="392" y="4966.5" width="154" height="29" rx="5"/><text class="w" x="469" y="4987">Furple 张伟峰</text></g>
<g id="furple-1"><rect class="b" x="572" y="4906" width="120" height="27" rx="4"/><text class="i" x="579" y="4925.5">SR数据库优化</text></g>
<g id="furple-2"><rect class="b" x="572" y="4939" width="102" height="27" rx="4"/><text class="i" x="579" y="4958.5">SR部署发布</text></g>
<g id="furple-3"><rect class="b" x="572" y="4971" width="135" height="27" rx="4"/><text class="i" x="579" y="4990.5">SR开发环境管理</text></g>
<g id="furple-mq"><text class="m" x="573" y="5036">目前任务</text><path class="u" d="M569 5042H655"/></g>
<g id="furple-t1"><text class="t" x="666" y="5020">1.SR所有相关项目的环境、部署管理、数据库优化</text><path class="u" d="M659 5027H1040"/></g>
<g id="furple-t2"><text class="t" x="666" y="5049">2.SR所有相关项目的其他事务</text><path class="u" d="M659 5056H890"/></g>
</g>
</svg>
